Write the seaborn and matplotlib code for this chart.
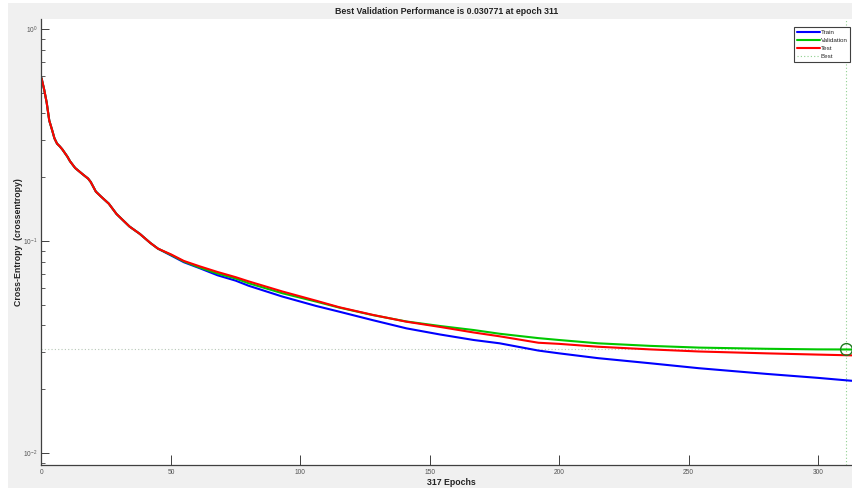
import numpy as np
import pandas as pd
import seaborn as sns
import matplotlib
matplotlib.use("Agg")
import matplotlib.pyplot as plt
from matplotlib.patches import Rectangle
from matplotlib.ticker import LogLocator, NullFormatter

# valores (cross-entropy por epoca)
epochs = [0, 1, 2, 3, 4, 5, 6, 7, 8, 10, 11, 13, 16, 18, 19, 21, 23, 26, 29, 34, 38, 42, 45, 50,
          55, 61, 68, 75, 80, 93, 106, 115, 128, 141, 154, 167, 177, 192, 200,
          215, 235, 254, 280, 300, 311, 317]
train = [0.587, 0.52, 0.45, 0.37, 0.337, 0.305, 0.288, 0.280, 0.271, 0.250, 0.238, 0.221, 0.206,
         0.197, 0.190, 0.171, 0.162, 0.150, 0.134, 0.117, 0.108, 0.098, 0.092, 0.0855,
         0.0794, 0.0745, 0.0689, 0.0650, 0.0615, 0.0547, 0.0494, 0.0464, 0.0423, 0.0387,
         0.0362, 0.0341, 0.0329, 0.0304, 0.0295, 0.0280, 0.0265, 0.0251, 0.0236, 0.0226,
         0.0220, 0.0217]
validation = [0.587, 0.52, 0.45, 0.37, 0.337, 0.305, 0.288, 0.280, 0.271, 0.250, 0.238, 0.221,
              0.206, 0.197, 0.190, 0.171, 0.162, 0.150, 0.134, 0.117, 0.108, 0.098, 0.092, 0.0860,
              0.0800, 0.0750, 0.0702, 0.0665, 0.0632, 0.0567, 0.0518, 0.0485, 0.0447, 0.0417,
              0.0397, 0.0380, 0.0365, 0.0348, 0.0341, 0.0329, 0.0320, 0.0314, 0.0310, 0.0308,
              0.030771, 0.0307]
test = [0.587, 0.52, 0.45, 0.37, 0.337, 0.305, 0.288, 0.280, 0.271, 0.250, 0.238, 0.221, 0.206,
        0.197, 0.190, 0.171, 0.162, 0.150, 0.134, 0.117, 0.108, 0.098, 0.092, 0.0865,
        0.0805, 0.0760, 0.0714, 0.0675, 0.0645, 0.0578, 0.0523, 0.0487, 0.0448, 0.0416,
        0.0393, 0.0370, 0.0355, 0.0331, 0.0327, 0.0317, 0.0308, 0.0301, 0.0295, 0.0291,
        0.0289, 0.0288]
best_epoch = 311
best_value = 0.030771
n_epochs = 317

df = pd.DataFrame({"Epoch": epochs, "Train": train, "Validation": validation, "Test": test})

sns.set_style("white")
plt.rcParams["font.family"] = ["Liberation Sans", "DejaVu Sans"]

W, H = 853, 490
fig = plt.figure(figsize=(W / 100, H / 100), dpi=100, facecolor="white")
fig.patches.append(Rectangle((8 / W, 2 / H), 1, 1 - 5 / H, transform=fig.transFigure,
                             facecolor="#f0f0f0", edgecolor="none", zorder=-10))

left, right, top, bottom = 41.5, 862, 19.5, 465
ax = fig.add_axes([left / W, 1 - bottom / H, (right - left) / W, (bottom - top) / H])
ax.set_facecolor("white")

# lineas de mejor epoca
ax.axvline(best_epoch, color="#8fd08f", lw=0.8, ls=(0, (1, 2)), zorder=1)
ax.axhline(best_value, color="#b8c8b8", lw=0.8, ls=(0, (1, 2)), zorder=1)

sns.lineplot(data=df, x="Epoch", y="Train", color="#0000ff", lw=1.5, ax=ax, label="Train")
sns.lineplot(data=df, x="Epoch", y="Validation", color="#00c800", lw=1.5, ax=ax, label="Validation")
sns.lineplot(data=df, x="Epoch", y="Test", color="#ff0000", lw=1.5, ax=ax, label="Test")
ax.plot([], [], color="#8fd08f", lw=0.8, ls=(0, (1, 2)), label="Best")
ax.plot([best_epoch], [best_value], marker="o", ms=8.5, mfc="none", mec="#1f7a1f", mew=1.0,
        ls="none", zorder=5)

ax.set_yscale("log")
ax.set_xlim(0, n_epochs)
ax.set_ylim(10 ** -2.057, 10 ** 0.045)
ax.set_xticks([0, 50, 100, 150, 200, 250, 300])
ax.yaxis.set_major_locator(LogLocator(base=10, numticks=5))
ax.yaxis.set_minor_locator(LogLocator(base=10, subs=np.arange(2, 10), numticks=20))
ax.yaxis.set_minor_formatter(NullFormatter())

for s in ["top", "right"]:
    ax.spines[s].set_visible(False)
for s in ["left", "bottom"]:
    ax.spines[s].set_color("#404040")
    ax.spines[s].set_linewidth(0.9)

ax.tick_params(axis="x", which="major", direction="in", length=7, width=0.7, color="#404040",
               labelsize=4.8, labelcolor="#555555", pad=3)
ax.tick_params(axis="y", which="major", direction="in", length=5.5, width=0.7, color="#404040",
               labelsize=4.8, labelcolor="#555555", pad=3)
ax.tick_params(axis="y", which="minor", direction="in", length=3, width=0.6, color="#404040")
ax.tick_params(left=True, bottom=True)
ax.yaxis.set_tick_params(which="minor", left=True)

ax.set_xlabel("317 Epochs", fontsize=6.3, fontweight="bold", color="#222222")
ax.xaxis.set_label_coords(0.5, -13 / (bottom - top), transform=ax.transAxes)
ax.set_ylabel("Cross-Entropy  (crossentropy)", fontsize=6.3, fontweight="bold", color="#222222")
ax.yaxis.set_label_coords((23 - left) / (right - left), 0.5)
fig.text(447 / W, 1 - 12 / H, "Best Validation Performance is 0.030771 at epoch 311",
         ha="center", va="center", fontsize=6.3, fontweight="bold", color="#222222")

leg = ax.legend(loc="upper right", bbox_to_anchor=(850 / W, 1 - 27 / H),
                bbox_transform=fig.transFigure, fontsize=4.5, handlelength=3.7,
                handletextpad=0.15, labelspacing=0.45, borderpad=0.4, fancybox=False,
                framealpha=1, borderaxespad=0)
leg.get_frame().set_edgecolor("#404040")
leg.get_frame().set_linewidth(0.8)

fig.savefig("out.png", dpi=100, facecolor=fig.get_facecolor())
